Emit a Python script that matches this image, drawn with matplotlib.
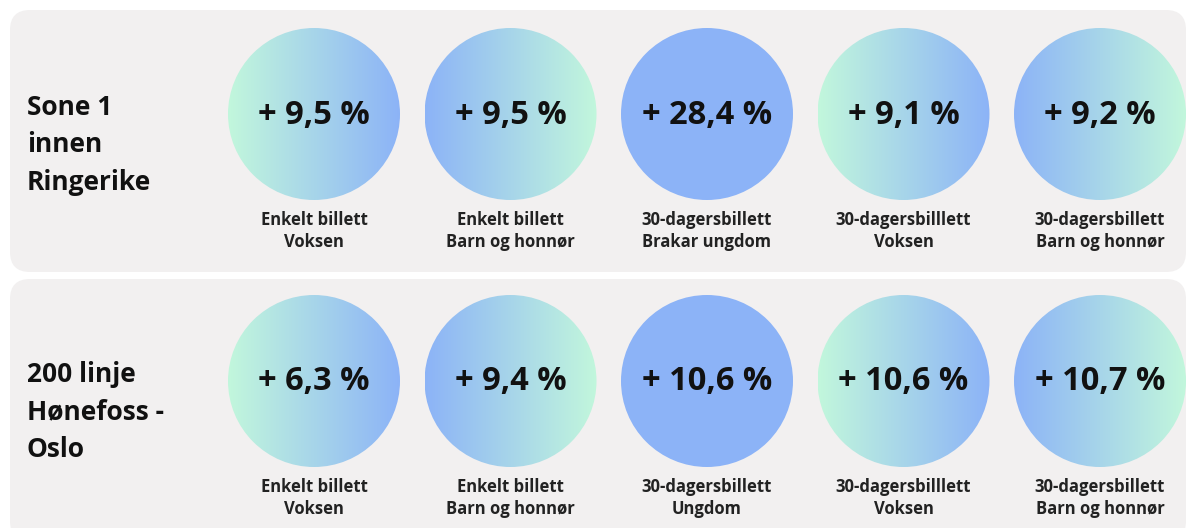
import numpy as np
import matplotlib
matplotlib.use("Agg")
import matplotlib.pyplot as plt
from matplotlib.patches import Circle, FancyBboxPatch
from matplotlib.colors import LinearSegmentedColormap

# data
zones = ["Sone 1\ninnen\nRingerike", "200 linje\nHønefoss -\nOslo"]
changes_sone1 = [9.5, 9.5, 28.4, 9.1, 9.2]
changes_200 = [6.3, 9.4, 10.6, 10.6, 10.7]
tickets_sone1 = [
    "Enkelt billett\nVoksen",
    "Enkelt billett\nBarn og honnør",
    "30-dagersbillett\nBrakar ungdom",
    "30-dagersbilllett\nVoksen",
    "30-dagersbillett\nBarn og honnør",
]
tickets_200 = [
    "Enkelt billett\nVoksen",
    "Enkelt billett\nBarn og honnør",
    "30-dagersbillett\nUngdom",
    "30-dagersbilllett\nVoksen",
    "30-dagersbillett\nBarn og honnør",
]
# gradient direction per circle: 1 = mint->blue, -1 = blue->mint, 0 = flat blue
gradient_dir = [1, -1, 0, 1, -1]

rows = [
    (zones[0], changes_sone1, tickets_sone1),
    (zones[1], changes_200, tickets_200),
]

MINT = "#c2f7dc"
BLUE = "#8cb3f7"
PANEL = "#f2f0f0"
cmap = LinearSegmentedColormap.from_list("mb", [MINT, BLUE])

W, H = 1188, 528
fig = plt.figure(figsize=(W / 100, H / 100), dpi=100)
fig.patch.set_facecolor("white")
ax = fig.add_axes([0, 0, 1, 1])
ax.set_xlim(0, W)
ax.set_ylim(H, 0)
ax.set_aspect("equal")
ax.axis("off")

panel_tops = [10, 279]
panel_h = 262
row_cy = [114, 381]
x0 = 314
dx = 196.5
r = 86
grad = np.linspace(0, 1, 256).reshape(1, -1)

for i, (zone, vals, labs) in enumerate(rows):
    top = panel_tops[i]
    ax.add_patch(FancyBboxPatch((10, top), 1176, panel_h,
                                boxstyle="round,pad=0,rounding_size=20",
                                fc=PANEL, ec="none", zorder=0))
    cy = row_cy[i]
    ax.text(27, cy + 31, zone, fontsize=19, fontweight="bold", family="Open Sans",
            color="#111111", ha="left", va="center", linespacing=1.5)
    for j, (v, lab) in enumerate(zip(vals, labs)):
        cx = x0 + j * dx
        circ = Circle((cx, cy), r, fc="none", ec="none", zorder=2)
        ax.add_patch(circ)
        d = gradient_dir[j]
        if d == 0:
            img = np.ones((1, 2))
        elif d == 1:
            img = grad
        else:
            img = grad[:, ::-1]
        im = ax.imshow(img, cmap=cmap, vmin=0, vmax=1, aspect="auto",
                       extent=(cx - r, cx + r, cy + r, cy - r),
                       interpolation="bilinear", zorder=1)
        im.set_clip_path(circ)
        txt = "+ " + f"{v:.1f}".replace(".", ",") + " %"
        ax.text(cx, cy + 1, txt, fontsize=23.5, fontweight="bold", family="Open Sans",
                color="#111111", ha="center", va="center", zorder=3)
        ax.text(cx, cy + 117, lab, fontsize=12, fontweight="bold", family="Open Sans",
                color="#222222", ha="center", va="center", linespacing=1.3, zorder=3)

ax.set_xlim(0, W)
ax.set_ylim(H, 0)
fig.savefig("out.png", dpi=100, facecolor="white")
